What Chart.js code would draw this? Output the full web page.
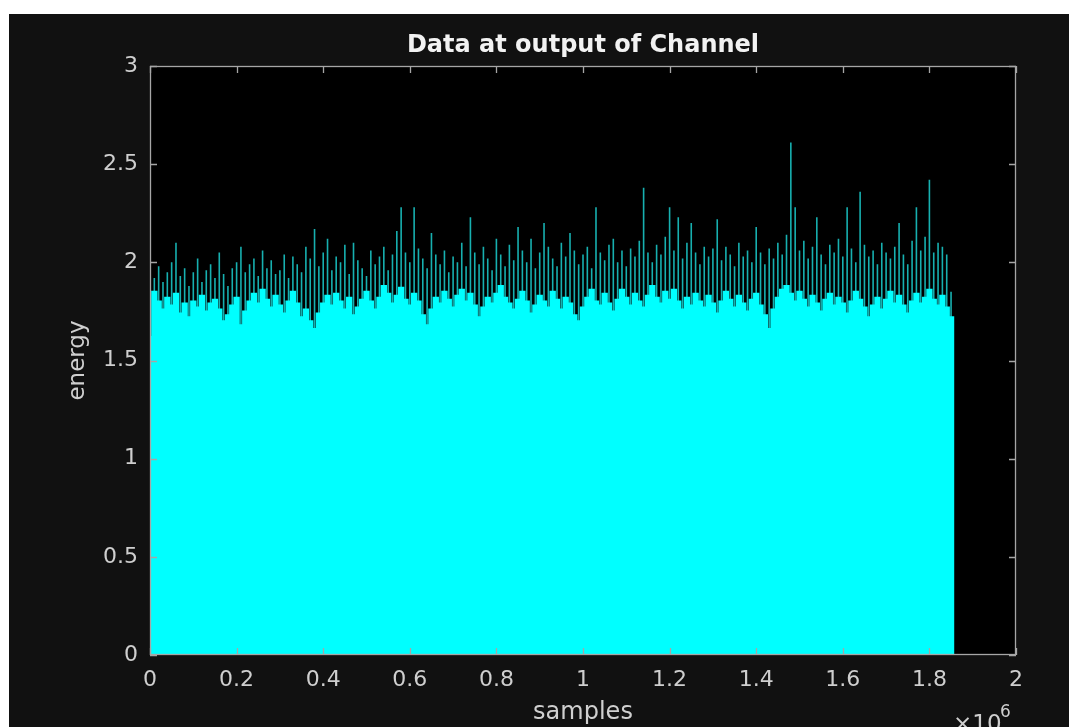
<!DOCTYPE html>
<html>
<head>
<meta charset="utf-8">
<title>Data at output of Channel</title>
<script src="https://cdn.jsdelivr.net/npm/chart.js@4.4.1/dist/chart.umd.min.js"></script>
<style>
  body { margin: 0; background: #ffffff; }
  #myChart { position: absolute; left: 9px; top: 14px; }
</style>
</head>
<body>
<canvas id="myChart" width="1060" height="713"></canvas>
<script>
// samples go every 10000 from 0 to 1.85e6
var passo = 10000
var xTicks = [0, 0.2, 0.4, 0.6, 0.8, 1, 1.2, 1.4, 1.6, 1.8, 2]
var yTicks = [0, 0.5, 1, 1.5, 2, 2.5, 3]

// highest spike in each slot (the teal lines)
var picos = [
  2.07, 1.92, 1.98, 1.90, 1.95, 2.00, 2.10, 1.93, 1.97, 1.88,
  1.95, 2.02, 1.90, 1.96, 1.99, 1.92, 2.05, 1.94, 1.88, 1.97,
  2.00, 2.08, 1.95, 1.99, 2.02, 1.93, 2.06, 1.97, 2.01, 1.94,
  1.96, 2.04, 1.92, 2.03, 1.99, 1.95, 2.08, 2.02, 2.17, 1.98,
  2.05, 2.12, 1.96, 2.03, 2.00, 2.09, 1.94, 2.10, 2.01, 1.97,
  1.93, 2.06, 1.99, 2.03, 2.08, 1.96, 2.04, 2.16, 2.28, 2.05,
  2.00, 2.28, 2.07, 2.02, 1.97, 2.15, 2.04, 1.99, 2.06, 1.95,
  2.03, 2.00, 2.10, 1.98, 2.23, 2.05, 1.99, 2.08, 2.02, 1.96,
  2.12, 2.04, 1.98, 2.09, 2.01, 2.18, 2.06, 2.00, 2.12, 1.97,
  2.05, 2.20, 2.08, 2.02, 1.98, 2.10, 2.03, 2.15, 2.06, 1.99,
  2.04, 2.08, 1.97, 2.28, 2.05, 2.01, 2.09, 2.12, 2.00, 2.06,
  1.98, 2.07, 2.03, 2.11, 2.38, 2.05, 2.00, 2.09, 2.04, 2.13,
  2.28, 2.06, 2.23, 2.02, 2.10, 2.20, 2.05, 1.99, 2.08, 2.03,
  2.07, 2.22, 2.01, 2.08, 2.04, 1.98, 2.10, 2.03, 2.06, 2.00,
  2.18, 2.05, 1.99, 2.07, 2.02, 2.10, 2.04, 2.14, 2.61, 2.28,
  2.06, 2.11, 2.02, 2.08, 2.23, 2.04, 1.99, 2.09, 2.05, 2.12,
  2.03, 2.28, 2.07, 2.00, 2.36, 2.09, 2.03, 2.06, 1.99, 2.10,
  2.05, 2.02, 2.08, 2.20, 2.04, 1.99, 2.11, 2.28, 2.06, 2.13,
  2.42, 2.05, 2.10, 2.08, 2.04, 1.85
]

// level where the cyan gets solid
var corpo = [
  1.62, 1.85, 1.80, 1.76, 1.82, 1.78, 1.84, 1.74, 1.79, 1.72,
  1.80, 1.77, 1.83, 1.75, 1.79, 1.81, 1.76, 1.70, 1.73, 1.78,
  1.82, 1.68, 1.75, 1.80, 1.84, 1.79, 1.86, 1.81, 1.77, 1.83,
  1.78, 1.74, 1.80, 1.85, 1.79, 1.72, 1.76, 1.70, 1.66, 1.74,
  1.79, 1.83, 1.78, 1.84, 1.80, 1.76, 1.82, 1.73, 1.77, 1.81,
  1.85, 1.80, 1.76, 1.82, 1.88, 1.84, 1.79, 1.83, 1.87, 1.81,
  1.78, 1.84, 1.80, 1.73, 1.68, 1.76, 1.82, 1.79, 1.85, 1.81,
  1.77, 1.83, 1.86, 1.80, 1.84, 1.78, 1.72, 1.77, 1.82, 1.79,
  1.84, 1.88, 1.82, 1.79, 1.76, 1.81, 1.85, 1.80, 1.74, 1.78,
  1.83, 1.80, 1.77, 1.85, 1.81, 1.76, 1.82, 1.79, 1.73, 1.70,
  1.77, 1.82, 1.86, 1.80, 1.78, 1.84, 1.79, 1.75, 1.81, 1.86,
  1.82, 1.78, 1.84, 1.80, 1.77, 1.83, 1.88, 1.82, 1.79, 1.85,
  1.81, 1.86, 1.80, 1.76, 1.82, 1.78, 1.84, 1.80, 1.77, 1.83,
  1.79, 1.74, 1.80, 1.85, 1.81, 1.77, 1.83, 1.79, 1.75, 1.81,
  1.84, 1.78, 1.73, 1.66, 1.76, 1.82, 1.86, 1.88, 1.84, 1.80,
  1.85, 1.81, 1.77, 1.83, 1.79, 1.75, 1.81, 1.84, 1.78, 1.82,
  1.79, 1.74, 1.80, 1.85, 1.81, 1.77, 1.72, 1.78, 1.82, 1.76,
  1.81, 1.85, 1.79, 1.83, 1.78, 1.74, 1.80, 1.84, 1.79, 1.82,
  1.86, 1.81, 1.78, 1.83, 1.77, 1.72
]

var fonte = '"DejaVu Sans", Verdana, sans-serif'
var corTexto = '#cfcfcf'

var dadosPicos = picos.map((v, i) => ({ x: i * passo, y: v }))
var dadosCorpo = corpo.map((v, i) => ({ x: i * passo, y: v }))

// black plot area + grey frame with inward ticks (matlab look)
const moldura = {
  id: 'moldura',
  beforeDraw(chart) {
    const ctx = chart.ctx
    ctx.save()
    ctx.fillStyle = '#111111'
    ctx.fillRect(0, 0, chart.width, chart.height)
    const a = chart.chartArea
    ctx.fillStyle = '#000000'
    ctx.fillRect(a.left, a.top, a.right - a.left, a.bottom - a.top)
    ctx.restore()
  },
  afterDraw(chart) {
    const ctx = chart.ctx
    const a = chart.chartArea
    const sx = chart.scales.x
    const sy = chart.scales.y
    ctx.save()
    ctx.strokeStyle = '#a6a6a6'
    ctx.lineWidth = 1.3
    ctx.strokeRect(a.left + 0.5, a.top + 0.5, a.right - a.left - 1, a.bottom - a.top - 1)
    ctx.beginPath()
    xTicks.forEach(t => {
      const px = Math.round(sx.getPixelForValue(t * 1e6)) + 0.5
      ctx.moveTo(px, a.bottom); ctx.lineTo(px, a.bottom - 7)
      ctx.moveTo(px, a.top); ctx.lineTo(px, a.top + 7)
    })
    yTicks.forEach(t => {
      const py = Math.round(sy.getPixelForValue(t)) + 0.5
      ctx.moveTo(a.left, py); ctx.lineTo(a.left + 7, py)
      ctx.moveTo(a.right, py); ctx.lineTo(a.right - 7, py)
    })
    ctx.stroke()

    // x10^6 multiplier under the right end of the axis
    ctx.fillStyle = corTexto
    ctx.textBaseline = 'alphabetic'
    ctx.textAlign = 'left'
    ctx.font = '23px ' + fonte
    ctx.fillText('\u00d710', 944, 717)
    ctx.font = '17px ' + fonte
    ctx.fillText('6', 991, 703)
    ctx.restore()
  }
}

const ctx1 = document.getElementById('myChart').getContext('2d')

new Chart(ctx1, {
  type: 'bar',
  data: {
    datasets: [{
      label: 'corpo',
      data: dadosCorpo,
      backgroundColor: '#00ffff',
      grouped: false,
      barPercentage: 1,
      categoryPercentage: 1,
      inflateAmount: 1,
      borderWidth: 0
    }, {
      label: 'picos',
      data: dadosPicos,
      backgroundColor: '#17b0b0',
      grouped: false,
      barThickness: 1.6,
      inflateAmount: 0,
      borderWidth: 0
    }]
  },
  options: {
    responsive: false,
    devicePixelRatio: 1,
    animation: false,
    layout: { padding: { left: 55, right: 53, top: 0, bottom: 0 } },
    plugins: {
      legend: { display: false },
      tooltip: { enabled: false },
      title: {
        display: true,
        fullSize: false,
        text: 'Data at output of Channel',
        color: '#f2f2f2',
        font: { family: fonte, size: 24, weight: 'bold' },
        padding: { top: 17, bottom: 6.2 }
      }
    },
    scales: {
      x: {
        type: 'linear',
        min: 0,
        max: 2e6,
        offset: false,
        afterBuildTicks: s => { s.ticks = xTicks.map(v => ({ value: v * 1e6 })) },
        afterFit: s => { s.height = 72 },
        grid: { display: false, drawTicks: false, offset: false },
        border: { display: false },
        ticks: {
          color: corTexto,
          font: { family: fonte, size: 22 },
          padding: 12,
          maxRotation: 0,
          callback: v => String(Math.round(v / 1e5) / 10)
        },
        title: {
          display: true,
          text: 'samples',
          color: corTexto,
          font: { family: fonte, size: 24 },
          padding: 0
        }
      },
      y: {
        min: 0,
        max: 3,
        afterBuildTicks: s => { s.ticks = yTicks.map(v => ({ value: v })) },
        afterFit: s => { s.width = 86 },
        grid: { display: false, drawTicks: false },
        border: { display: false },
        ticks: {
          color: corTexto,
          font: { family: fonte, size: 22 },
          padding: 12,
          callback: v => String(v)
        },
        title: {
          display: true,
          text: 'energy',
          color: corTexto,
          font: { family: fonte, size: 23 },
          padding: 0
        }
      }
    }
  },
  plugins: [moldura]
})
</script>
</body>
</html>
